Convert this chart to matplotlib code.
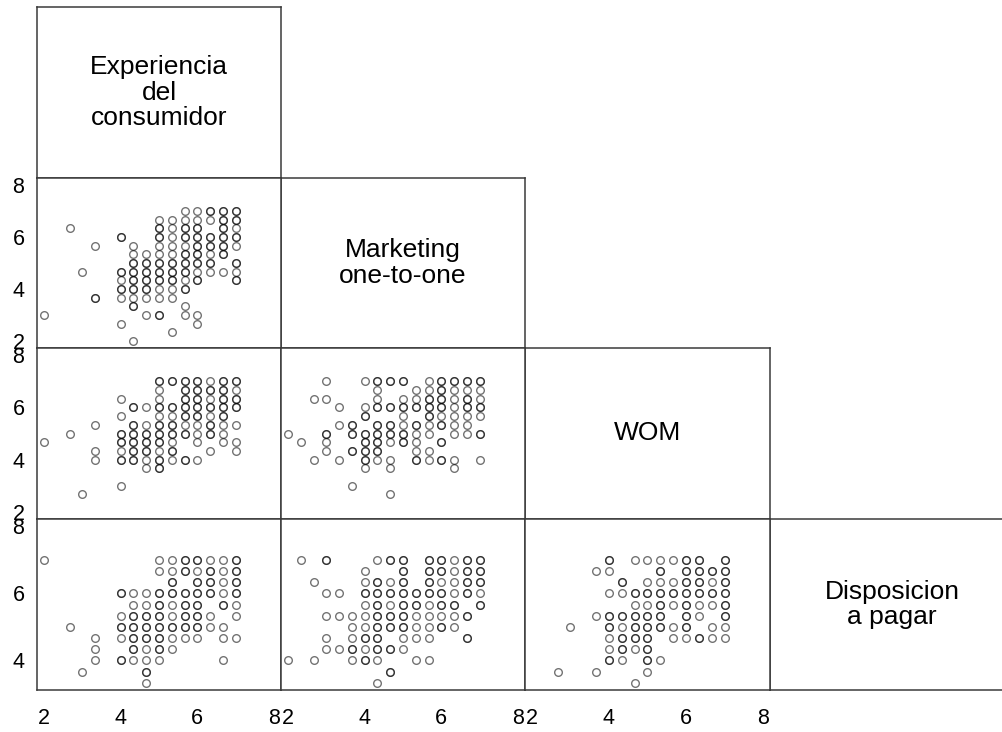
import numpy as np
import matplotlib.pyplot as plt

plt.rcParams['font.family'] = ['Liberation Sans', 'DejaVu Sans']

# variable names shown on the diagonal
names = ['Experiencia\ndel\nconsumidor', 'Marketing\none-to-one', 'WOM',
         'Disposicion\na pagar']

# answer levels (mean of three items, steps of 1/3)
levels = [2.00, 2.33, 2.67, 3.00, 3.33, 3.67, 4.00, 4.33,
          4.67, 5.00, 5.33, 5.67, 6.00, 6.33, 6.67, 7.00]

# counts per level: one string per y level, from 7.00 downwards,
# one character per x level (from 2.00 to 7.00); '.' = none
exp_vs_mkt = [
    "...........11222",
    ".........1111122",
    "..1......2122.21",
    "......2..2122222",
    "....1..1.1112221",
    ".......11112212.",
    ".......2222222.2",
    "...1..2222221111",
    "......1222212..2",
    "......222112....",
    "....2.11111.....",
    ".......2...1....",
    "1.......12.11...",
    "......1.....1...",
    "..........1.....",
    ".......1........",
]
exp_vs_wom = [
    ".........2222122",
    ".........1.22221",
    "......1..1.22122",
    ".......212222222",
    "......1..112212.",
    "....1..212211211",
    "..1...222222121.",
    "1.....22221.1.11",
    "....1.12212..1.1",
    "....1.2212121...",
    "........12......",
    "................",
    "......1.........",
    "...1............",
]
mkt_vs_wom = [
    "...1..1222.12222",
    ".......1..112111",
    "..11...1.1122121",
    "....1.1222222122",
    "......2..1.21111",
    "....12.22121211.",
    "1..2.2222211.112",
    ".1.1..22121.2...",
    "...1.222..11....",
    "..1.1.211.2121.1",
    "......1.1....1..",
    "................",
    ".....1..........",
    "........1.......",
]
exp_vs_pay = [
    "1........1122112",
    ".........1121212",
    "..........2.2212",
    "......2112222212",
    ".......112122.21",
    "......12221221.1",
    "..1...222222211.",
    "....1.1222111.11",
    "....1..2121.....",
    "....1.2111....1.",
    "...1....2.......",
    "........1.......",
]
mkt_vs_pay = [
    ".1.2...122.22122",
    "......1..2.22122",
    "..1...1212.21122",
    "...11.2222222121",
    "......12122122.2",
    "...111122211112.",
    ".....112221121..",
    "...1.122.111..2.",
    "...1121221......",
    "1.1..121..11....",
    "........2.......",
    ".......1........",
]
wom_vs_pay = [
    "......2.111122.2",
    ".....11...2.2222",
    ".......2.1112212",
    "......1122222222",
    "........11212112",
    ".....122222.21.2",
    "...1..2122212.11",
    "......1222.11211",
    "......1212......",
    "......21.21.....",
    "..1..1...1......",
    "........1.......",
]

panels = {(1, 0): exp_vs_mkt, (2, 0): exp_vs_wom, (2, 1): mkt_vs_wom,
          (3, 0): exp_vs_pay, (3, 1): mkt_vs_pay, (3, 2): wom_vs_pay}

xlims = [(1.82, 8.18)] * 3
ylims = [None, (1.73, 8.27), (1.73, 8.27), (3.12, 8.22)]
yticks = [None, [2, 4, 6, 8], [2, 4, 6, 8], [4, 6, 8]]

W, H = 1003, 732
col_edges = [37, 281, 525, 770, 1014]
row_edges = [7, 178, 348, 519, 690]
edge = '#3a3a3a'

fig = plt.figure(figsize=(W / 100, H / 100), dpi=100)


def make_ax(r, c):
    x0, x1 = col_edges[c], col_edges[c + 1]
    y0, y1 = row_edges[r], row_edges[r + 1]
    ax = fig.add_axes([x0 / W, 1 - y1 / H, (x1 - x0) / W, (y1 - y0) / H])
    for s in ax.spines.values():
        s.set_color(edge)
        s.set_linewidth(1.1)
    ax.tick_params(length=0, labelsize=15.5, colors='black')
    ax.set_xticks([])
    ax.set_yticks([])
    return ax


for i in range(4):
    ax = make_ax(i, i)
    ax.text(0.5, 0.5, names[i], ha='center', va='center', fontsize=19,
            linespacing=1.08, transform=ax.transAxes)

for (r, c), rows in panels.items():
    ax = make_ax(r, c)
    xs, ys = [], []
    for i, line in enumerate(rows):
        yv = levels[15 - i]
        for k, ch in enumerate(line):
            if ch != '.':
                xs += [levels[k]] * int(ch)
                ys += [yv] * int(ch)
    ax.plot(xs, ys, 'o', ms=5.5, mfc='none', mec='black', mew=1.0, alpha=0.55)
    ax.set_xlim(*xlims[c])
    ax.set_ylim(*ylims[r])
    if c == 0:
        ax.set_yticks(yticks[r])
        ax.tick_params(axis='y', pad=9)
    if r == 3:
        ax.set_xticks([2, 4, 6, 8])
        ax.tick_params(axis='x', pad=13)

fig.savefig('out.png', dpi=100)
